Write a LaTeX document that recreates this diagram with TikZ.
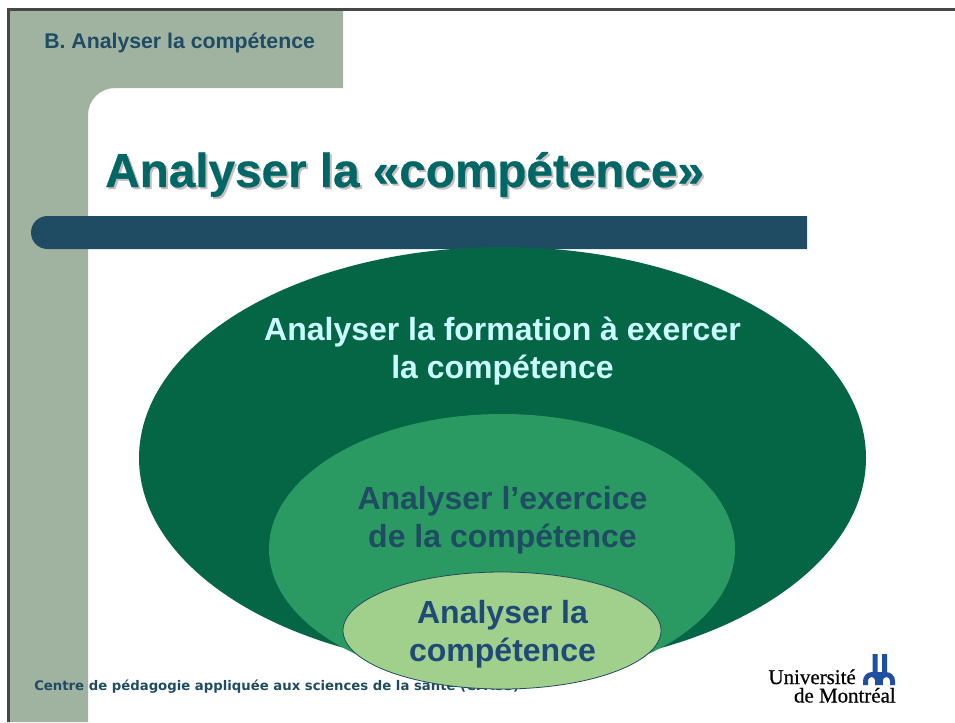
\documentclass[tikz,border=0pt]{standalone}
\usepackage{fontspec}
\setmainfont{Liberation Sans}
\newfontfamily\footfont{DejaVu Sans}
\newfontfamily\logofont[FakeBold=0.6]{Liberation Serif}
\newfontfamily\titlefont[FakeBold=0.6]{Liberation Sans Bold}
\definecolor{sage}{HTML}{A0B2A0}
\definecolor{navy}{HTML}{1F4C63}
\definecolor{titleteal}{HTML}{006666}
\definecolor{shadowc}{HTML}{C8BEBE}
\definecolor{darkgreen}{HTML}{046644}
\definecolor{midgreen}{HTML}{2A9A62}
\definecolor{lightgreen}{HTML}{A0D08C}
\definecolor{paleblue}{HTML}{CCFFFF}
\definecolor{textblue}{HTML}{1F4A78}
\definecolor{logoblue}{HTML}{1F4FA0}
\tikzset{
  ringlabel/.style={font=\bfseries\fontsize{24}{28.5}\selectfont,align=center,inner sep=0pt},
  titletext/.style={font=\titlefont\fontsize{35.75}{40}\selectfont,inner sep=0pt,anchor=base west},
  logotext/.style={font=\logofont\fontsize{15.7}{16}\selectfont,inner sep=0pt,anchor=base east,text=black}
}
\begin{document}
\begin{tikzpicture}[x=0.75pt,y=-0.75pt]
\useasboundingbox (0,0) rectangle (955,722);
\fill[white] (0,0) rectangle (955,722);
% frame background
\fill[sage] (8,9) -- (343,9) -- (343,88) -- (115,88) arc[start angle=270,end angle=180,radius=27] -- (88,722) -- (8,722) -- cycle;
\draw[line width=1.9pt,black!72] (8.7,722) -- (8.7,9.3) -- (955,9.3);
% header
\node[font=\bfseries\fontsize{15.95}{18}\selectfont,text=navy,inner sep=0pt,anchor=base west] (section) at (44,48) {B. Analyser la compétence};
% title
\node[titletext,text=shadowc] (titleshadow) at (107,189) {Analyser la «compétence»};
\node[titletext,text=titleteal] (title) at (105,187) {Analyser la «compétence»};
% bar
\fill[navy] (807,216) -- (47.5,216) arc[start angle=270,end angle=90,radius=16.5] -- (807,249) -- cycle;
% footer
\node[font=\footfont\bfseries\fontsize{9.93}{12}\selectfont,text=navy,inner sep=0pt,anchor=base west] (footer) at (34,690) {Centre de pédagogie appliquée aux sciences de la santé (CPASS)};
% ellipses
\fill[darkgreen] (502.5,458) ellipse[x radius=363.5,y radius=211];
\fill[midgreen] (502,549) ellipse[x radius=233,y radius=135];
\draw[fill=lightgreen,draw=navy,line width=0.6pt] (502,630.5) ellipse[x radius=159,y radius=58.5];
% labels
\node[ringlabel,text=paleblue] (outerlabel) at (502.5,351.5) {Analyser la formation à exercer\\la compétence};
\node[ringlabel,text=navy] (midlabel) at (502.5,520.5) {Analyser l’exercice\\de la compétence};
\node[ringlabel,text=textblue] (innerlabel) at (502.5,634.5) {Analyser la\\compétence};
% logo
\node[logotext] (logo1) at (856,684) {Université};
\node[logotext] (logo2) at (896,702.5) {de Montréal};
\fill[logoblue] (872.5,654) rectangle (877.5,675) (882,654) rectangle (887,675);
\fill[logoblue] (863,685) -- (863,681) arc[start angle=180,end angle=270,radius=9] -- (886,672) arc[start angle=270,end angle=360,radius=9] -- (895,685) -- (890,685) -- (890,680.6) arc[start angle=0,end angle=-180,radius=3.6] -- (882.8,685) -- (875.2,685) -- (875.2,680.6) arc[start angle=0,end angle=-180,radius=3.6] -- (868,685) -- cycle;
\end{tikzpicture}
\end{document}
